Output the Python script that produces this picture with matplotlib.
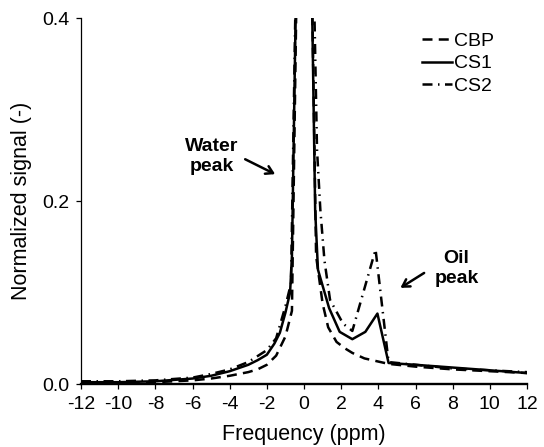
from __future__ import annotations

import matplotlib

matplotlib.use("Agg")
import matplotlib.pyplot as plt
from matplotlib.axes import Axes

plt.rcParams["font.family"] = ["Liberation Sans", "DejaVu Sans"]
plt.rcParams["axes.unicode_minus"] = False

# CBP (dashed)
cbp_x = [-12, -10, -8, -6, -5, -4, -3, -2.5, -2, -1.5, -1.0, -0.65, 0,
         0.65, 1.0, 1.3, 1.75, 2.2, 2.6, 3.25, 3.9, 4.55, 6, 8, 10, 12]
cbp_y = [0.001, 0.001, 0.002, 0.004, 0.006, 0.009, 0.013, 0.016, 0.021, 0.031,
         0.052, 0.08, 1.0, 0.14, 0.088, 0.062, 0.046, 0.039, 0.034, 0.028,
         0.025, 0.022, 0.019, 0.016, 0.014, 0.012]

# CS1 (solid)
cs1_x = [-12, -10, -8, -6, -5, -4, -3, -2.5, -2, -1.6, -1.3, -1.0, -0.75, -0.65, 0,
         0.6, 0.75, 1.35, 1.92, 2.6, 3.3, 3.95, 4.55, 6, 8, 10, 12]
cs1_y = [0.002, 0.002, 0.003, 0.006, 0.009, 0.014, 0.021, 0.026, 0.032, 0.044,
         0.056, 0.078, 0.1, 0.14, 1.0, 0.19, 0.125, 0.083, 0.057, 0.049, 0.057,
         0.077, 0.023, 0.021, 0.018, 0.015, 0.012]

# CS2 (dash-dot)
cs2_x = [-12, -10, -8, -6, -5, -4, -3, -2, -1.5, -1.0, -0.7, 0,
         0.7, 0.88, 1.1, 1.4, 2.1, 2.6, 3.85, 4.55, 6, 8, 10, 12]
cs2_y = [0.003, 0.003, 0.004, 0.007, 0.011, 0.016, 0.024, 0.037, 0.05, 0.085,
         0.11, 1.0, 0.256, 0.19, 0.135, 0.092, 0.066, 0.058, 0.147, 0.024,
         0.021, 0.017, 0.015, 0.013]

x_ticks = list(range(-12, 13, 2))
y_ticks = [0.0, 0.2, 0.4]

# annotation text anchors and arrows (data units)
water_text = (-4.98, 0.2485)
water_arrow = ((-3.3, 0.247), (-1.42, 0.228))
oil_text = (8.2, 0.126)
oil_arrow = ((6.59, 0.123), (5.06, 0.1035))


def style_ax(ax: Axes) -> None:
    ax.set_xlim(-12, 12)
    ax.set_ylim(0, 0.4)
    ax.set_xticks(x_ticks)
    ax.set_xticklabels([str(t) for t in x_ticks])
    ax.set_yticks(y_ticks)
    ax.set_yticklabels([f"{t:.1f}" for t in y_ticks])
    ax.spines[["top", "right"]].set_visible(False)
    ax.spines["left"].set_linewidth(0.9)
    ax.spines["bottom"].set_linewidth(1.7)
    ax.tick_params(axis="both", direction="out", length=3.5, width=0.9,
                   labelsize=14, pad=5)
    ax.set_xlabel("Frequency (ppm)", fontsize=15.5, labelpad=8)
    ax.set_ylabel("Normalized signal (-)", fontsize=15.5, labelpad=7)


def main() -> None:
    fig = plt.figure(figsize=(5.44, 4.47), dpi=100)
    ax = fig.add_axes([0.1489, 0.1409, 0.8199, 0.8188])

    lw = 1.8
    ax.plot(cbp_x, cbp_y, color="black", lw=lw, ls=(0, (4, 2.5)), label="CBP")
    ax.plot(cs1_x, cs1_y, color="black", lw=lw, ls="-", label="CS1")
    ax.plot(cs2_x, cs2_y, color="black", lw=lw, ls=(0, (4, 2.2, 0.6, 2.2)),
            label="CS2")

    ax.text(*water_text, "Water\npeak", ha="center", va="center",
            fontsize=14, fontweight="bold")
    ax.text(*oil_text, "Oil\npeak", ha="center", va="center",
            fontsize=14, fontweight="bold")
    for start, end in (water_arrow, oil_arrow):
        ax.annotate("", xy=end, xytext=start,
                    arrowprops=dict(arrowstyle="->,head_length=0.5,head_width=0.3",
                                    color="black", lw=1.8))

    ax.legend(loc="upper left", bbox_to_anchor=(0.764, 0.961), frameon=False,
              fontsize=14, handlelength=1.55, handletextpad=0.13,
              labelspacing=0.25, borderpad=0, borderaxespad=0)

    style_ax(ax)
    fig.savefig("out.png", dpi=100)
    plt.close(fig)


if __name__ == "__main__":
    main()
